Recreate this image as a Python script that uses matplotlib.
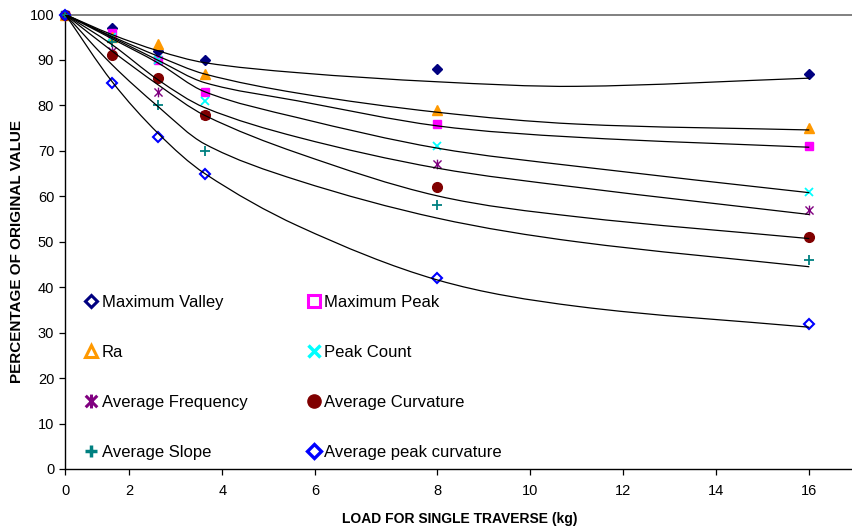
import numpy as np
import matplotlib
matplotlib.use("Agg")
import matplotlib.pyplot as plt
from matplotlib.path import Path
from matplotlib.patches import PathPatch

plt.rcParams['font.family'] = ['Liberation Sans', 'DejaVu Sans']

# Measured surface parameters (percentage of original value) vs load
load = [0, 1, 2, 3, 8, 16]
max_valley = [100, 97, 92, 90, 88, 87]
max_peak = [100, 96, 90, 83, 76, 71]
ra = [100, 95, 93.5, 87, 79, 75]
peak_count = [100, 95, 90, 81, 71, 61]
avg_frequency = [100, 92, 83, 78, 67, 57]
avg_curvature = [100, 91, 86, 78, 62, 51]
avg_slope = [100, 94, 80, 70, 58, 46]
avg_peak_curvature = [100, 85, 73, 65, 42, 32]

# Trend curves for each parameter, sampled along the load axis
trend_load = [0, 1, 2, 3, 5, 8, 11, 16]
trend_max_valley = [100, 95.6, 92.0, 89.4, 87.2, 85.2, 84.2, 86.0]
trend_max_peak = [100, 95.0, 89.9, 85.0, 81.0, 75.5, 73.0, 70.8]
trend_ra = [100, 95.2, 90.8, 86.9, 82.7, 78.5, 75.9, 74.6]
trend_peak_count = [100, 94.7, 89.3, 83.0, 77.3, 70.6, 66.6, 60.8]
trend_avg_frequency = [100, 93.4, 85.6, 79.5, 73.0, 66.2, 62.0, 56.0]
trend_avg_curvature = [100, 92.0, 84.5, 77.8, 69.5, 60.1, 55.5, 50.7]
trend_avg_slope = [100, 89.0, 79.7, 71.5, 63.5, 55.2, 50.0, 44.5]
trend_avg_peak_curvature = [100, 85.3, 73.8, 65.0, 53.5, 41.6, 35.8, 31.2]

x_tick_labels = ['0', '2', '4', '6', '8', '10', '12', '14', '16']
x_tick_pos = [0, 1.376, 3.376, 5.376, 8, 10, 12, 14, 16]
y_ticks = list(range(0, 101, 10))

# asterisk marker: X with a vertical stroke
ast = Path([(-1, -1), (1, 1), (-1, 1), (1, -1), (0, -1.2), (0, 1.2)],
           [Path.MOVETO, Path.LINETO, Path.MOVETO, Path.LINETO, Path.MOVETO, Path.LINETO])

series = [
    ("Maximum Valley", max_valley, trend_max_valley,
     dict(marker='D', ms=5.5, mfc='#000080', mec='#000080'),
     dict(marker='D', ms=6.5, mfc='none', mec='#000080', mew=2.2)),
    ("Maximum Peak", max_peak, trend_max_peak,
     dict(marker='s', ms=6, mfc='#FF00FF', mec='#FF00FF'),
     dict(marker='s', ms=8, mfc='none', mec='#FF00FF', mew=2.2)),
    ("Ra", ra, trend_ra,
     dict(marker='^', ms=7, mfc='#FF9900', mec='#FF9900'),
     dict(marker='^', ms=9, mfc='none', mec='#FF9900', mew=2.2)),
    ("Peak Count", peak_count, trend_peak_count,
     dict(marker='x', ms=6, mec='#00FFFF', mew=1.3),
     dict(marker='x', ms=9, mec='#00FFFF', mew=2.5)),
    ("Average Frequency", avg_frequency, trend_avg_frequency,
     dict(marker=ast, ms=7, mec='#800080', mew=1.0),
     dict(marker=ast, ms=10, mec='#800080', mew=2.2)),
    ("Average Curvature", avg_curvature, trend_avg_curvature,
     dict(marker='o', ms=7, mfc='#800000', mec='#800000'),
     dict(marker='o', ms=9.5, mfc='#800000', mec='#800000')),
    ("Average Slope", avg_slope, trend_avg_slope,
     dict(marker='+', ms=7, mec='#008080', mew=1.3),
     dict(marker='+', ms=9, mec='#008080', mew=2.5)),
    ("Average peak curvature", avg_peak_curvature, trend_avg_peak_curvature,
     dict(marker='D', ms=5, mfc='none', mec='#0000FF', mew=1.5),
     dict(marker='D', ms=7, mfc='none', mec='#0000FF', mew=2.4)),
]


def smooth_path(xs, ys):
    """Smooth curve y(x) through the samples as cubic Hermite/Bezier segments."""
    x = np.asarray(xs, float)
    y = np.asarray(ys, float)
    n = len(x)
    m = np.empty(n)
    m[0] = (y[1] - y[0]) / (x[1] - x[0])
    m[-1] = (y[-1] - y[-2]) / (x[-1] - x[-2])
    m[1:-1] = (y[2:] - y[:-2]) / (x[2:] - x[:-2])
    verts = [(x[0], y[0])]
    codes = [Path.MOVETO]
    for i in range(n - 1):
        h = x[i + 1] - x[i]
        verts += [(x[i] + h / 3, y[i] + m[i] * h / 3),
                  (x[i + 1] - h / 3, y[i + 1] - m[i + 1] * h / 3),
                  (x[i + 1], y[i + 1])]
        codes += [Path.CURVE4] * 3
    return Path(verts, codes)


fig = plt.figure(figsize=(8.53, 5.30), dpi=100)
ax = fig.add_axes([0.0766, 0.1151, 0.9234, 0.8575])

for name, vals, trend, pstyle, lstyle in series:
    ax.plot(load, vals, linestyle='none', clip_on=False, zorder=3, **pstyle)
    ax.add_patch(PathPatch(smooth_path(trend_load, trend), facecolor='none',
                           edgecolor='black', lw=0.9, zorder=4))

ax.set_xlim(0, 16.94)
ax.set_ylim(0, 100)
ax.set_yticks(y_ticks)
ax.set_yticklabels([str(v) for v in y_ticks])
ax.set_xticks(x_tick_pos)
ax.set_xticklabels(x_tick_labels)
ax.tick_params(axis='both', direction='out', length=4, width=0.9, colors='black',
               labelsize=10.5)
ax.tick_params(axis='x', pad=7)
ax.tick_params(axis='y', pad=4)

for side in ('left', 'bottom'):
    ax.spines[side].set_color('black')
    ax.spines[side].set_linewidth(1.0)
ax.spines['right'].set_visible(False)
ax.spines['top'].set_color('#808080')
ax.spines['top'].set_linewidth(1.4)

# legend, two columns inside the plot area
col_marker_x = [0.0322, 0.3157]
col_text_x = [0.0462, 0.3284]
row_y = [0.3571, 0.2471, 0.1371, 0.0271]
for idx, (name, vals, trend, pstyle, lstyle) in enumerate(series):
    col = idx % 2
    row = idx // 2
    y = row_y[row]
    ax.plot([col_marker_x[col]], [y + 0.0125], transform=ax.transAxes,
            linestyle='none', clip_on=False, zorder=5, **lstyle)
    ax.text(col_text_x[col], y, name, transform=ax.transAxes, fontsize=12,
            va='baseline', ha='left', color='black')

fig.text(460 / 853, 6.7 / 530, 'LOAD FOR SINGLE TRAVERSE (kg)', ha='center',
         va='baseline', fontsize=10, fontweight='bold')
fig.text(17 / 853, (530 - 251.5) / 530, 'PERCENTAGE OF ORIGINAL VALUE', ha='center',
         va='center', rotation=90, fontsize=11, fontweight='bold')

fig.savefig('out.png', dpi=100)
